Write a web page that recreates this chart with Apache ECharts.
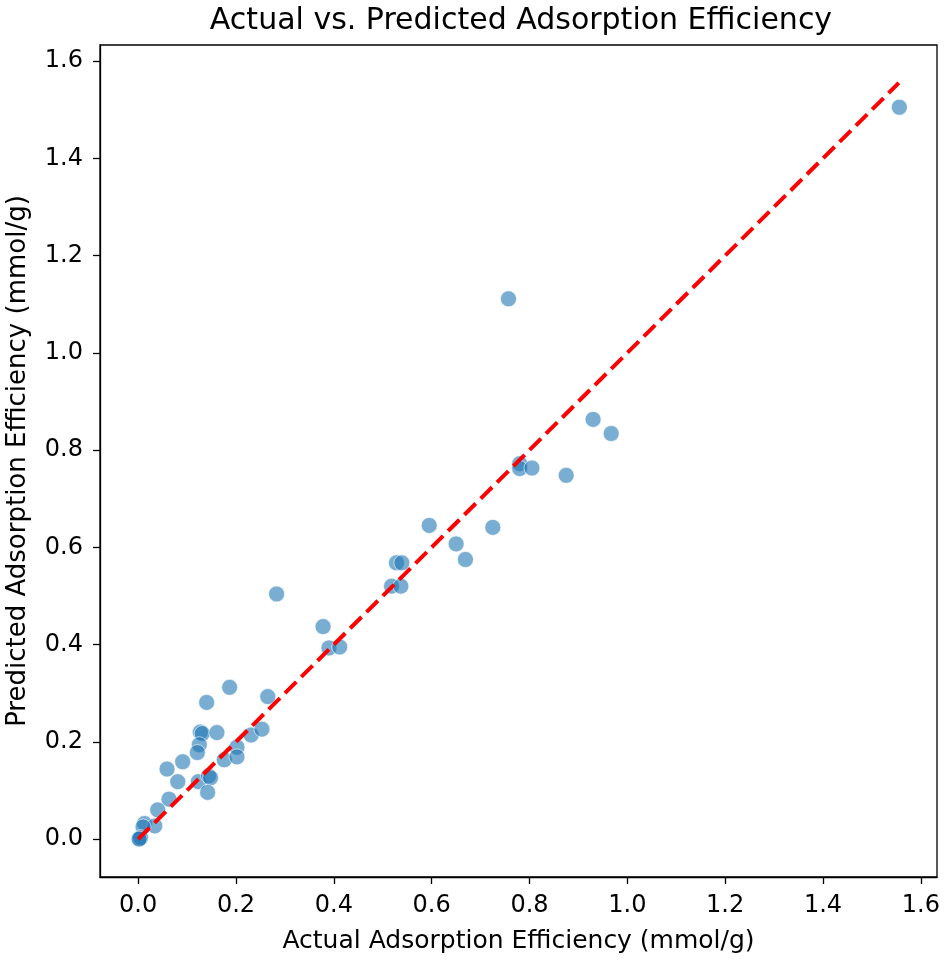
<!DOCTYPE html>
<html>
<head>
<meta charset="utf-8">
<script src="https://cdn.jsdelivr.net/npm/echarts@6/dist/echarts.min.js"></script>
<style>
html,body{margin:0;padding:0;background:#fff;}
#chart{width:945px;height:961px;}
</style>
</head>
<body>
<div id="chart"></div>
<script>
var actual = [1.556, 0.757, 0.930, 0.967, 0.780, 0.780, 0.805, 0.875, 0.595, 0.650, 0.669, 0.725, 0.528, 0.539, 0.518, 0.537, 0.283, 0.378, 0.390, 0.412, 0.187, 0.140, 0.265, 0.127, 0.131, 0.161, 0.231, 0.253, 0.125, 0.121, 0.202, 0.176, 0.202, 0.059, 0.091, 0.081, 0.123, 0.144, 0.148, 0.142, 0.063, 0.040, 0.013, 0.034, 0.010, 0.003, 0.005, 0.002];
var predicted = [1.505, 1.111, 0.863, 0.834, 0.772, 0.762, 0.763, 0.748, 0.645, 0.607, 0.575, 0.641, 0.568, 0.568, 0.520, 0.520, 0.504, 0.437, 0.393, 0.395, 0.312, 0.281, 0.293, 0.220, 0.217, 0.219, 0.214, 0.226, 0.194, 0.178, 0.189, 0.163, 0.169, 0.144, 0.159, 0.118, 0.118, 0.130, 0.126, 0.096, 0.082, 0.060, 0.032, 0.027, 0.025, 0.001, 0.003, 0.000];
var idealLine = [[0, 0], [1.555, 1.555]];
var tickValues = [0, 0.2, 0.4, 0.6, 0.8, 1.0, 1.2, 1.4, 1.6];
var axisMin = -0.078, axisMax = 1.633;

var points = actual.map(function (a, i) { return [a, predicted[i]]; });
var font = 'DejaVu Sans';

function makeAxis(name, gap, nameSize) {
  return {
    type: 'value',
    min: axisMin,
    max: axisMax,
    name: name,
    nameLocation: 'middle',
    nameGap: gap,
    nameTextStyle: { fontFamily: font, fontSize: nameSize, color: '#000' },
    axisLine: { show: true, onZero: false, lineStyle: { color: '#000', width: 1.3 } },
    axisTick: { show: true, inside: false, length: 7, customValues: tickValues, lineStyle: { color: '#000', width: 1.3 } },
    axisLabel: { show: true, margin: 17, customValues: tickValues, fontFamily: font, fontSize: 24, color: '#000',
      formatter: function (v) { return Number(v).toFixed(1); } },
    splitLine: { show: false }
  };
}

var chart = echarts.init(document.getElementById('chart'), null, { renderer: 'canvas' });
chart.setOption({
  backgroundColor: '#fff',
  animation: false,
  title: {
    text: 'Actual vs. Predicted Adsorption Efficiency',
    left: 516, top: 1, textAlign: 'center',
    textStyle: { fontFamily: font, fontSize: 30, fontWeight: 'normal', color: '#000' }
  },
  grid: { left: 100, top: 45, right: 8, bottom: 84, containLabel: false, outerBoundsMode: 'none', show: true, borderColor: '#000', borderWidth: 1.3, backgroundColor: 'transparent' },
  xAxis: makeAxis('Actual Adsorption Efficiency (mmol/g)', 52, 25),
  yAxis: makeAxis('Predicted Adsorption Efficiency (mmol/g)', 69, 26),
  series: [
    {
      type: 'scatter',
      data: points,
      symbolSize: 16,
      itemStyle: { color: '#1f77b4', opacity: 0.6, borderColor: '#ffffff', borderWidth: 1 },
      z: 2
    },
    {
      type: 'line',
      data: idealLine,
      symbol: 'none',
      lineStyle: { color: '#ff0000', width: 4, type: [16, 7] },
      z: 3
    }
  ]
});
</script>
</body>
</html>
